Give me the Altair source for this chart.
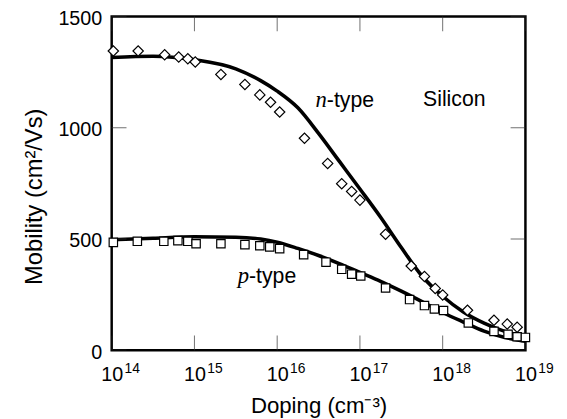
import altair as alt
import pandas as pd

# ---------------- data ----------------
# measured electron (n-type) mobility, log10(doping) and cm^2/Vs
n_exp = [14.02, 14.32, 14.64, 14.81, 14.92, 15.01, 15.32, 15.61, 15.79, 15.92,
         16.03, 16.33, 16.61, 16.78, 16.90, 17.00, 17.31, 17.62, 17.78, 17.91,
         18.00, 18.30, 18.62, 18.78, 18.90]
n_mob = [1345, 1345, 1328, 1318, 1310, 1296, 1240, 1195, 1148, 1115,
         1071, 953, 840, 749, 714, 675, 522, 379, 332, 278,
         249, 180, 135, 118, 104]

# measured hole (p-type) mobility
p_exp = [14.02, 14.31, 14.63, 14.80, 14.92, 15.02, 15.32, 15.61, 15.79, 15.91,
         16.03, 16.32, 16.59, 16.78, 16.90, 17.01, 17.31, 17.60, 17.78, 17.90,
         18.01, 18.31, 18.62, 18.79, 18.90, 19.00]
p_mob = [485, 490, 490, 493, 490, 479, 479, 475, 470, 465,
         457, 430, 396, 364, 342, 334, 280, 228, 201, 186,
         179, 123, 85, 72, 61, 58]

# fitted curves
fit_exp = [14.0, 14.5, 15.0, 15.5, 15.8, 16.0, 16.25, 16.5, 16.75, 17.0,
           17.25, 17.5, 17.75, 18.0, 18.25, 18.5, 18.75, 19.0]
n_fit = [1316, 1322, 1306, 1265, 1212, 1165, 1090, 975, 850, 725,
         598, 462, 334, 243, 172, 122, 85, 63]
p_fit = [497, 504, 510, 508, 500, 486, 458, 426, 390, 350,
         310, 266, 219, 170, 127, 86, 58, 41]

decades = [14, 15, 16, 17, 18, 19]
y_values = [0, 500, 1000, 1500]

# annotations: text, log10 doping, mobility
silicon_label = ("Silicon", 18.14, 1096)
n_label = ("n", "-type", 16.60, 1092)
p_label = ("p", "-type", 15.66, 302)

# ---------------- tables ----------------
n_pts = pd.DataFrame({"doping": [10 ** e for e in n_exp], "mobility": n_mob})
p_pts = pd.DataFrame({"doping": [10 ** e for e in p_exp], "mobility": p_mob})
fit = pd.DataFrame({
    "doping": [10 ** e for e in fit_exp] * 2,
    "mobility": n_fit + p_fit,
    "type": ["n"] * len(fit_exp) + ["p"] * len(fit_exp),
})
xt = pd.DataFrame({"doping": [10 ** d for d in decades] * 2,
                   "mobility": [0] * len(decades) + [1500] * len(decades)})
yt = pd.DataFrame({"doping": [1e14] * len(y_values) + [1e19] * len(y_values),
                   "mobility": y_values * 2})
expo = pd.DataFrame({"doping": [10 ** d for d in decades],
                     "mobility": [0] * len(decades),
                     "txt": [str(d) for d in decades]})
ann_sans = pd.DataFrame({
    "doping": [10 ** silicon_label[1]],
    "mobility": [silicon_label[2]],
    "txt": [silicon_label[0]],
})
ann_left = pd.DataFrame({
    "doping": [10 ** n_label[2], 10 ** p_label[2]],
    "mobility": [n_label[3], p_label[3]],
    "txt": [n_label[1], p_label[1]],
})
ann_ital = pd.DataFrame({
    "doping": [10 ** n_label[2], 10 ** p_label[2]],
    "mobility": [n_label[3], p_label[3]],
    "txt": [n_label[0], p_label[0]],
})

SANS = "Liberation Sans"
SERIF = "Liberation Serif"

x_enc = alt.X(
    "doping:Q",
    scale=alt.Scale(type="log", domain=[1e14, 1e19], nice=False),
    axis=alt.Axis(values=[10 ** d for d in decades], labelExpr="'10'",
                  ticks=False, tickSize=0, domain=False, grid=False,
                  labelFontSize=20, labelPadding=31, labelBaseline="alphabetic",
                  labelFlush=False, labelOverlap=False,
                  titleFontSize=22.5, titleY=63, titleBaseline="alphabetic"),
    title="Doping (cm⁻³)",
)
y_enc = alt.Y(
    "mobility:Q",
    scale=alt.Scale(domain=[0, 1500], nice=False, zero=True),
    axis=alt.Axis(values=y_values, format="d", ticks=False, tickSize=0,
                  domain=False, grid=False, labelFontSize=20, labelPadding=10,
                  labelBaseline="middle", labelFlush=False, labelOffset=2,
                  titleFontSize=24, titleX=-71, titleY=182, titleAngle=-90,
                  titleBaseline="alphabetic", titleAlign="center"),
    title="Mobility (cm²/Vs)",
)

curves = alt.Chart(fit).mark_line(color="black", strokeWidth=3.6,
                                  interpolate="monotone").encode(
    x=x_enc, y=y_enc, detail="type:N")

xticks = alt.Chart(xt).mark_tick(orient="vertical", size=30, thickness=1,
                                 color="#333333", clip=True).encode(x=x_enc, y=y_enc)
yticks = alt.Chart(yt).mark_tick(orient="horizontal", size=30, thickness=1,
                                 color="#333333", clip=True).encode(x=x_enc, y=y_enc)

n_marks = alt.Chart(n_pts).mark_point(shape="diamond", size=110, filled=True,
                                      fill="white", stroke="black",
                                      strokeWidth=1.2, opacity=1).encode(x=x_enc, y=y_enc)
p_marks = alt.Chart(p_pts).mark_point(shape="square", size=72, filled=True,
                                      fill="white", stroke="black",
                                      strokeWidth=1.2, opacity=1).encode(x=x_enc, y=y_enc)

exponents = alt.Chart(expo).mark_text(align="left", baseline="alphabetic",
                                      dx=13, dy=23, fontSize=14, font=SANS,
                                      color="black").encode(x=x_enc, y=y_enc, text="txt:N")

t_sans = alt.Chart(ann_sans).mark_text(align="center", baseline="alphabetic",
                                       fontSize=21.5, font=SANS,
                                       color="black").encode(x=x_enc, y=y_enc, text="txt:N")
t_left = alt.Chart(ann_left).mark_text(align="left", baseline="alphabetic",
                                       fontSize=21.5, font=SANS,
                                       color="black").encode(x=x_enc, y=y_enc, text="txt:N")
t_ital = alt.Chart(ann_ital).mark_text(align="right", baseline="alphabetic",
                                       fontSize=23, font=SERIF, fontStyle="italic",
                                       color="black").encode(x=x_enc, y=y_enc, text="txt:N")

chart = alt.layer(
    curves, xticks, yticks, n_marks, p_marks, exponents, t_sans, t_left, t_ital
).properties(
    width=419, height=338,
    background="white",
    autosize=alt.AutoSizeParams(type="none"),
    padding={"left": 105, "top": 6, "right": 34, "bottom": 75},
).configure_view(
    stroke="black", strokeWidth=2.5, fill="white"
).configure_axis(
    labelFont=SANS, titleFont=SANS, labelColor="black", titleColor="black",
    titleFontWeight="normal"
)

chart.save("out.html", embed_options={"renderer": "svg", "actions": False})
